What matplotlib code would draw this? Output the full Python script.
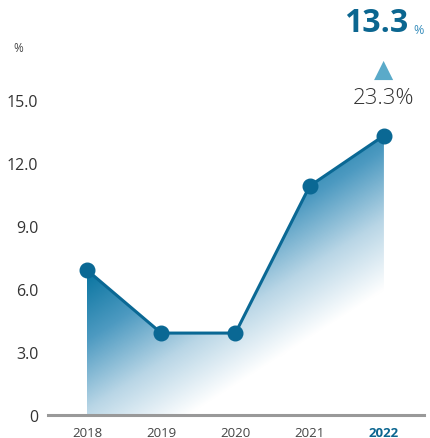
import matplotlib
matplotlib.use("Agg")
import matplotlib.pyplot as plt
import numpy as np
from matplotlib.colors import LinearSegmentedColormap

years = ["2018", "2019", "2020", "2021", "2022"]
values = [6.9, 3.9, 3.9, 10.9, 13.3]
yticks = [0, 3, 6, 9, 12, 15]
ytick_labels = ["0", "3.0", "6.0", "9.0", "12.0", "15.0"]
headline_value = "13.3"
growth_label = "23.3%"

W, H = 430, 439
fig = plt.figure(figsize=(W / 100, H / 100), dpi=100)
ax_left, ax_right, ax_bottom_px, ax_top_px = 48, 424, 416, 40
ax = fig.add_axes([ax_left / W, (H - ax_bottom_px) / H,
                   (ax_right - ax_left) / W, (ax_bottom_px - ax_top_px) / H])

xs = np.arange(len(years))
ax.set_xlim(-0.525, 4.54)
ax.set_ylim(0, 17.9)

line_color = "#0a6894"
# gradient fill clipped by area polygon
poly = ax.fill_between(xs, 0, values, facecolor="none", edgecolor="none")
cmap = LinearSegmentedColormap.from_list("g", ["#07739f", "#4d9ac1", "#b9d6e6", "#ffffff"])
gx = np.linspace(0, 4, 300)
gy = np.linspace(0, 14, 300)
GX, GY = np.meshgrid(gx, gy)
t = 0.225 * GX + 0.1 * (values[0] - GY)
t = np.clip(t, 0, 1)
img = ax.imshow(t, extent=[0, 4, 0, 14], origin="lower", cmap=cmap, vmin=0, vmax=1,
                aspect="auto", interpolation="bilinear", zorder=1)
img.set_clip_path(poly.get_paths()[0], transform=ax.transData)

ax.plot(xs, values, color=line_color, lw=2.2, marker="o", markersize=10.5, zorder=3)

for s in ["top", "right", "left"]:
    ax.spines[s].set_visible(False)
ax.spines["bottom"].set_color("#999999")
ax.spines["bottom"].set_linewidth(2.2)

ax.set_yticks(yticks)
ax.set_yticklabels(ytick_labels, fontsize=11.5, color="#333333", family="Open Sans")
ax.set_xticks(xs)
ax.set_xticklabels(years, fontsize=9.5, color="#444444", family="Open Sans")
lbls = ax.get_xticklabels()
lbls[-1].set_color("#0b6690")
lbls[-1].set_fontweight("bold")
ax.tick_params(axis="y", length=0, pad=7)
ax.tick_params(axis="x", length=0, pad=8)

# unit
fig.text(18 / W, 1 - 48 / H, "%", fontsize=8.5, color="#444444", ha="center", va="center",
         family="Open Sans")

# headline
fig.text(408 / W, 1 - 24 / H, headline_value, fontsize=23, fontweight="bold", color="#0b6690",
         ha="right", va="center", family="Open Sans")
fig.text(413 / W, 1 - 30 / H, "%", fontsize=9, color="#3a8fbd", ha="left", va="center",
         family="Open Sans")
fig.text(384 / W, 1 - 70 / H, "\u25b2", fontsize=18, color="#5aaac9", ha="center", va="center",
         family="DejaVu Sans")
fig.text(383 / W, 1 - 99 / H, growth_label, fontsize=16, color="#333333", ha="center",
         va="center", family="Open Sans", fontweight="light")

fig.savefig("out.png", dpi=100)
